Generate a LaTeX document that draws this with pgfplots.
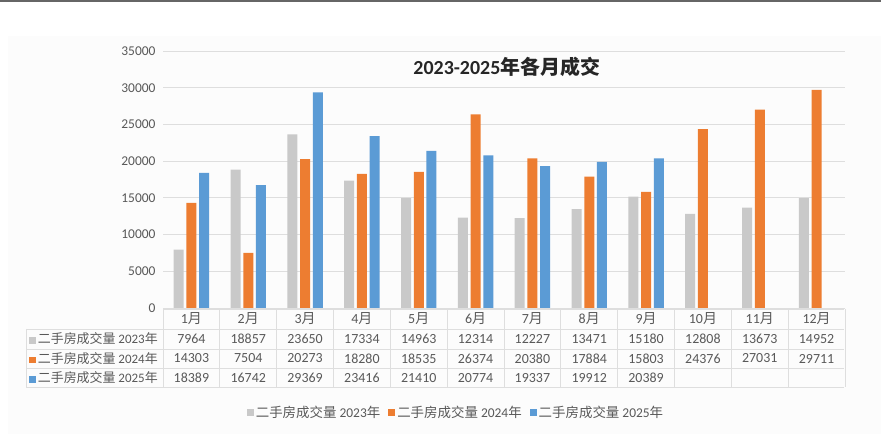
\documentclass[border=0pt]{standalone}
\usepackage{pgfplots}
\pgfplotsset{compat=1.18}
\usepackage{pgfplotstable}
\usepackage{fontspec}
\setmainfont{Carlito}
\newfontfamily\cjk{Noto Sans CJK SC}
\definecolor{cA}{HTML}{C9C9C9}
\definecolor{cB}{HTML}{ED7D31}
\definecolor{cC}{HTML}{5B9BD5}
\definecolor{txt}{HTML}{595959}
\definecolor{gridc}{HTML}{DEDEDE}

\pgfplotstableread{
m a b c
1 7964 14303 18389
2 18857 7504 16742
3 23650 20273 29369
4 17334 18280 23416
5 14963 18535 21410
6 12314 26374 20774
7 12227 20380 19337
8 13471 17884 19912
9 15180 15803 20389
10 12808 24376 nan
11 13673 27031 nan
12 14952 29711 nan
}\data

\begin{document}
\begin{tikzpicture}[x=1bp,y=1bp]
\fill[white] (0,0) rectangle (881,434);
\fill[black!1] (8,0) rectangle (881,398);
\fill[black!60] (0,432.3) rectangle (881,434);
\begin{axis}[
  at={(163bp,126bp)}, anchor=south west,
  scale only axis, width=682bp, height=257bp,
  ybar=2.7bp, bar width=10bp,
  xmin=0.5, xmax=12.5, ymin=0, ymax=35000,
  ytick={0,5000,...,35000}, xtick=\empty,
  scaled y ticks=false,
  yticklabel style={font=\fontsize{13.5}{15}\selectfont, text=txt, xshift=-4bp, /pgf/number format/1000 sep={}, /pgf/number format/assume math mode=true},
  ymajorgrids, grid style={draw=gridc, line width=0.8bp},
  axis line style={draw=none}, tick style={draw=none},
  clip=false,
  legend style={at={(0.4296,-0.405)}, anchor=center, draw=none, fill=none,
    font=\fontsize{13.5}{15}\selectfont, text=txt,
    /tikz/every even column/.append style={column sep=6bp}},
  legend columns=3,
  legend image code/.code={\fill[#1] (0bp,-3.5bp) rectangle (7bp,3.5bp);},
]
\addplot[fill=cA, draw=none] table[x=m, y=a] {\data};
\addplot[fill=cB, draw=none] table[x=m, y=b] {\data};
\addplot[fill=cC, draw=none] table[x=m, y=c] {\data};
\legend{{\cjk 二手房成交量} 2023{\cjk 年}, {\cjk 二手房成交量} 2024{\cjk 年}, {\cjk 二手房成交量} 2025{\cjk 年}}
\node[fill=black!1, inner sep=2bp, font=\fontsize{20}{23}\selectfont\bfseries, text=black!85] at (rel axis cs:0.504,0.937) {2023-2025{\cjk 年各月成交}};
\end{axis}
% data table
\begin{scope}[draw=gridc, line width=0.7bp]
\foreach \y in {105,85,66,47} \draw (26,\y) -- (844,\y);
\draw (163,125) -- (844,125);
\draw (26,105) -- (26,47);
\foreach \k in {0,...,12} \draw ({163+\k*56.833},125) -- ({163+\k*56.833},47);
\end{scope}
\begin{scope}[font=\fontsize{14}{16}\selectfont, text=txt]
\foreach \k in {1,...,12} \node at ({163+(\k-0.5)*56.833},115) {\k{\cjk 月}};
\foreach \v [count=\k] in {7964,18857,23650,17334,14963,12314,12227,13471,15180,12808,13673,14952}
  \node at ({163+(\k-0.5)*56.833},95) {\v};
\foreach \v [count=\k] in {14303,7504,20273,18280,18535,26374,20380,17884,15803,24376,27031,29711}
  \node at ({163+(\k-0.5)*56.833},75.5) {\v};
\foreach \v [count=\k] in {18389,16742,29369,23416,21410,20774,19337,19912,20389}
  \node at ({163+(\k-0.5)*56.833},56) {\v};
\end{scope}
\begin{scope}[font=\fontsize{13}{15}\selectfont, text=txt]
\node[anchor=west, inner sep=0pt] at (29,95) {\textcolor{cA}{\rule{6.5bp}{6.5bp}}\,{\cjk 二手房成交量} 2023{\cjk 年}};
\node[anchor=west, inner sep=0pt] at (29,75.5) {\textcolor{cB}{\rule{6.5bp}{6.5bp}}\,{\cjk 二手房成交量} 2024{\cjk 年}};
\node[anchor=west, inner sep=0pt] at (29,56) {\textcolor{cC}{\rule{6.5bp}{6.5bp}}\,{\cjk 二手房成交量} 2025{\cjk 年}};
\end{scope}
\end{tikzpicture}
\end{document}
